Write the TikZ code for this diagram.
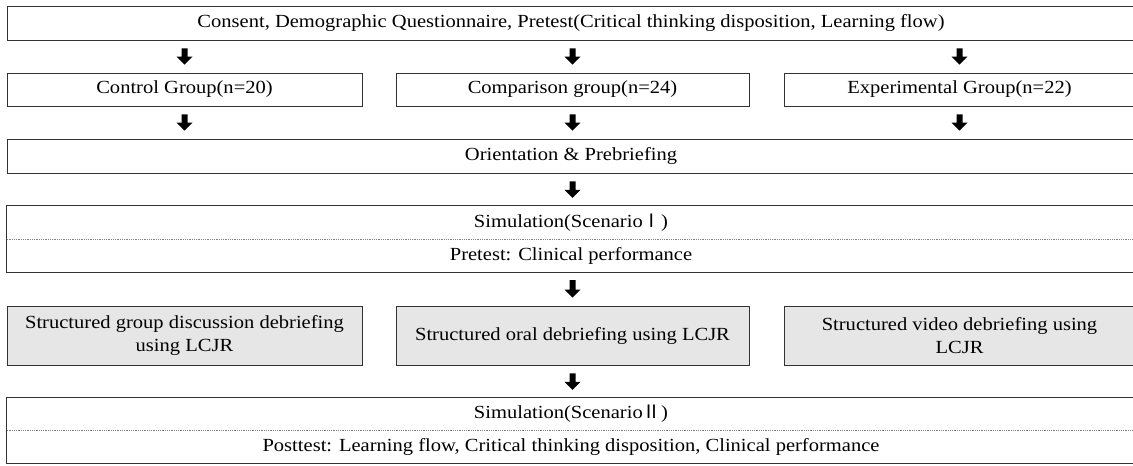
\documentclass[tikz,border=0pt]{standalone}
\usepackage{fontspec}
\setmainfont{Liberation Serif}[FakeStretch=1.11]
\newfontfamily\cjk{Noto Sans CJK KR}
\usetikzlibrary{calc}
\definecolor{linec}{HTML}{333333}
\definecolor{boxfill}{HTML}{E6E6E6}
\newcommand{\fs}{\fontsize{18.5}{23}\selectfont}
\tikzset{
  box/.style={draw=linec, line width=0.9pt, inner sep=0pt, align=center, font=\fs},
  plain/.style={inner sep=0pt, align=center, font=\fs},
  shade/.style={box, fill=boxfill},
  blockarrow/.style={to path={let \p1=(\tikztostart), \p2=(\tikztotarget) in
    (\x1-3pt,\y1-8pt) -- (\x1+3pt,\y1-8pt) -- (\x1+3pt,\y2+16pt) -- (\x1+8pt,\y2+16pt)
    -- (\x1,\y2+8pt) -- (\x1-8pt,\y2+16pt) -- (\x1-3pt,\y2+16pt) -- cycle}},
  sepline/.style={draw=gray, line width=0.7pt, dash pattern=on 0.7pt off 1.1pt}
}
\begin{document}
\begin{tikzpicture}[x=1pt,y=-1pt]
\useasboundingbox (0,0) rectangle (1133,466);
\clip (0,0) rectangle (1133,466);
% top
\node[box, minimum width=1128pt, minimum height=34pt] (top) at (571,23)
  {Consent, Demographic Questionnaire, Pretest(Critical thinking disposition, Learning flow)};
% groups
\node[box, minimum width=355pt, minimum height=33pt] (ctrl) at (184.5,89.5) {Control Group(n=20)};
\node[box, minimum width=353pt, minimum height=33pt] (comp) at (572.5,89.5) {Comparison group(n=24)};
\node[box, minimum width=351pt, minimum height=33pt] (expe) at (959.5,89.5) {Experimental Group(n=22)};
% orientation
\node[box, minimum width=1128pt, minimum height=34pt] (orient) at (571,156) {Orientation \& Prebriefing};
% simulation I
\node[plain, minimum width=1128pt, minimum height=33pt] (sim1) at (571,222.5) {Simulation(Scenario{\cjk Ⅰ})};
\node[plain, minimum width=1128pt, minimum height=33pt] (sim2) at (571,255.5) {Pretest: Clinical performance};
\draw[draw=linec, line width=0.9pt] (sim1.north west) rectangle (sim2.south east);
\draw[sepline] (sim1.south west) -- (sim1.south east);
% debriefing
\node[shade, minimum width=355pt, minimum height=59pt] (d1) at (184.5,335.5) {Structured group discussion debriefing\\using LCJR};
\node[shade, minimum width=353pt, minimum height=59pt] (d2) at (572.5,335.5) {Structured oral debriefing using LCJR};
\node[shade, minimum width=351pt, minimum height=59pt] (d3) at (959.5,335.5) {Structured video debriefing using\\LCJR};
% simulation II
\node[plain, minimum width=1128pt, minimum height=32pt] (sim3) at (571,414) {Simulation(Scenario{\cjk Ⅱ})};
\node[plain, minimum width=1128pt, minimum height=33pt] (sim4) at (571,446.5) {Posttest: Learning flow, Critical thinking disposition, Clinical performance};
\draw[draw=linec, line width=0.9pt] (sim3.north west) rectangle (sim4.south east);
\draw[sepline] (sim3.south west) -- (sim3.south east);
% arrows
\fill (top.south -| ctrl) to[blockarrow] (ctrl.north);
\fill (top.south -| comp) to[blockarrow] (comp.north);
\fill (top.south -| expe) to[blockarrow] (expe.north);
\fill (ctrl.south) to[blockarrow] (orient.north -| ctrl);
\fill (comp.south) to[blockarrow] (orient.north -| comp);
\fill (expe.south) to[blockarrow] (orient.north -| expe);
\fill (orient.south -| comp) to[blockarrow] (sim1.north -| comp);
\fill (sim2.south -| d2) to[blockarrow] (d2.north);
\fill (d2.south) to[blockarrow] (sim3.north -| d2);
\end{tikzpicture}
\end{document}
